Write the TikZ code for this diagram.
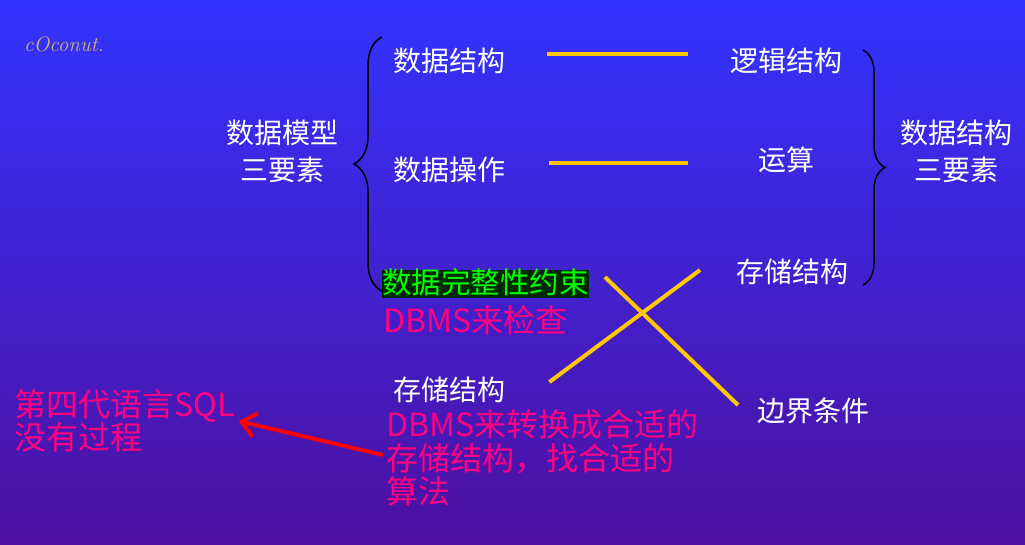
\documentclass[tikz,border=0pt]{standalone}
\usepackage{fontspec}
\newfontfamily\cjk{Noto Sans CJK SC}
\usepackage{tikz}
\usetikzlibrary{decorations.pathreplacing,arrows.meta}

\definecolor{bgtop}{RGB}{51,51,255}
\definecolor{bgbottom}{RGB}{78,16,160}
\definecolor{lineyellow}{RGB}{255,200,0}
\definecolor{pinkred}{RGB}{255,0,128}
\definecolor{boxgreen}{RGB}{0,40,0}
\definecolor{textgreen}{RGB}{0,255,0}
\definecolor{marktan}{RGB}{205,185,105}

\tikzset{
    wtext/.style={text=white, inner sep=0pt, align=center, font=\cjk\fontsize{28}{37}\selectfont},
    ptext/.style={text=pinkred, inner sep=0pt, align=left, font=\cjk\fontsize{32}{33.5}\selectfont},
    yline/.style={draw=lineyellow, line width=4pt},
    bigbrace/.style={draw=black, line width=1.5pt, decorate},
}

\begin{document}
\begin{tikzpicture}[x=1pt, y=1pt]
    % --- 背景 ---
    \useasboundingbox (0,0) rectangle (1025,-544);
    \shade[top color=bgtop, bottom color=bgbottom] (0,0) rectangle (1025,-544);
    \node[anchor=west, inner sep=0pt, text=marktan, font=\itshape\fontsize{21}{21}\selectfont] (mark) at (24,-44) {cOconut.};

    % --- 数据模型三要素 ---
    \node[wtext] (sjmx) at (282,-151) {数据模型\\三要素};
    \draw[bigbrace, decoration={brace, amplitude=28pt}] (382,-291) -- (382,-37);
    \node[wtext, anchor=west] (sjjg) at (393,-61) {数据结构};
    \node[wtext, anchor=west] (sjcz) at (393,-170) {数据操作};
    \node[anchor=west, fill=boxgreen, text=textgreen, inner xsep=0pt, inner ysep=0.5pt,
          text height=23pt, text depth=4pt, font=\cjk\fontsize{29.5}{29.5}\selectfont] (wzx) at (382,-284) {数据完整性约束};
    \node[ptext, anchor=west] (jc) at (383,-320) {DBMS来检查};

    % --- 数据结构三要素 ---
    \node[wtext, anchor=west] (ljjg) at (730,-61) {逻辑结构};
    \node[wtext] (ys) at (786,-160) {运算};
    \node[wtext, anchor=west] (ccjg) at (736,-272) {存储结构};
    \draw[bigbrace, decoration={brace, amplitude=22pt}] (863,-50) -- (863,-285);
    \node[wtext] (sjjg3) at (956,-151) {数据结构\\三要素};

    % 对应关系
    \draw[yline] ([xshift=42pt,yshift=7pt]sjjg.east) -- ([xshift=-42pt,yshift=7pt]ljjg.west);
    \draw[yline] ([xshift=44pt,yshift=7pt]sjcz.east) -- ([xshift=-70pt,yshift=-3pt]ys.west);

    % --- 交叉 ---
    \node[wtext, anchor=west] (cc2) at (393,-390) {存储结构};
    \node[wtext, anchor=west] (bjtj) at (757,-411) {边界条件};
    \draw[yline] ([xshift=16pt,yshift=7pt]wzx.east) -- ([xshift=-19pt,yshift=6pt]bjtj.west);
    \draw[yline] ([xshift=44pt,yshift=8pt]cc2.east) -- ([xshift=-36pt,yshift=2pt]ccjg.west);

    % --- 说明 ---
    \node[ptext, anchor=west] (zh) at (386,-458) {DBMS来转换成合适的\\存储结构，找合适的\\算法};
    \node[ptext, anchor=west] (sql) at (14,-421) {第四代语言SQL\\没有过程};
    \draw[draw=red, line width=4pt, -{Straight Barb[length=14pt, width=24pt]}]
        ([xshift=-3pt,yshift=3pt]zh.west) -- ([xshift=4pt]sql.east);
\end{tikzpicture}
\end{document}
